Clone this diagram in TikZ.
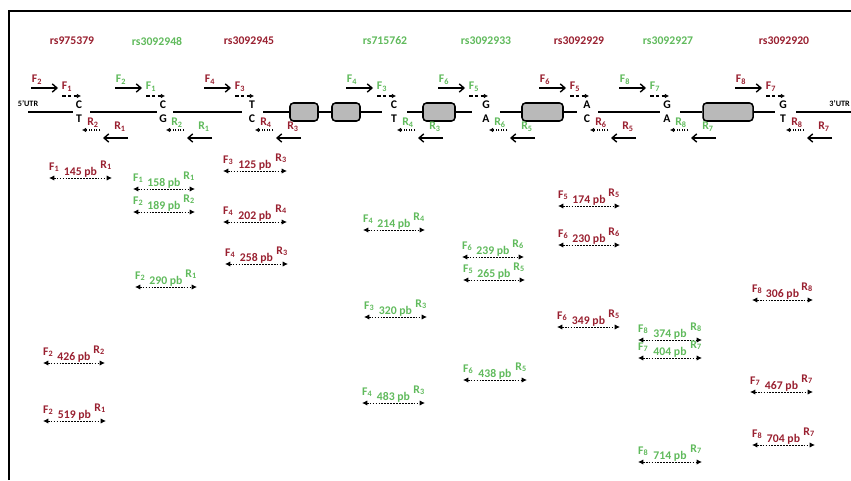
\documentclass[tikz,border=0pt]{standalone}
\usepackage{fontspec}
\setmainfont{Carlito}
\usepackage{xcolor}
\usetikzlibrary{arrows.meta, positioning, shapes}
\definecolor{snpred}{RGB}{153,32,48}
\definecolor{snpgreen}{RGB}{96,186,92}
\tikzset{
        x=0.03cm, y=-0.03cm, % one unit = one pixel of the figure, y going down
        every node/.style={font=\bfseries\fontsize{10}{12}\selectfont, inner sep=0pt},
        rs label/.style={font=\bfseries\fontsize{10}{12}\selectfont},
        allele/.style={font=\bfseries\fontsize{10}{12}\selectfont},
        utr/.style={font=\bfseries\fontsize{7}{8}\selectfont},
        gene/.style={line width=1.8pt},
    }
\tikzset{
      exon/.style={
		draw,
		line width=1.3pt,
		fill=gray!55,
		rounded corners=3pt,
		minimum height=0.54cm,
		minimum width={#1*0.03cm},
	  },
      outer primer/.style={line width=1.2pt, -{Straight Barb[length=4pt,width=7pt]}},
      inner fwd/.style={line width=1pt, dash pattern=on 3pt off 2pt, -{Latex[length=3.5pt,width=4pt]}},
      inner rev/.style={line width=1.2pt, dash pattern=on 1pt off 1.2pt, -{Latex[length=3.5pt,width=4pt]}},
      amplicon/.style={line width=0.8pt, dash pattern=on 1.5pt off 1pt, {Latex[length=4.5pt,width=4.5pt]}-{Latex[length=4.5pt,width=4.5pt]}},
  	}

\begin{document}
\begin{tikzpicture}
    \useasboundingbox (0,0) rectangle (851,480);
    \draw[line width=1.5pt] (9,480) -- (9,11) -- (851,11); % frame

    % gene with exons
    \node[utr] (utr5) at (28,104) {5'UTR};
    \node[utr, anchor=east] (utr3) at (850,104) {3'UTR};
    \foreach \ga/\gb in {28/73, 90/157, 173/242, 598/660, 796/851}
        \draw[gene] (\ga,112) -- (\gb,112);
    \node[exon=28] (ex1) at (304,112) {};
    \node[exon=28] (ex2) at (346,112) {};
    \node[exon=32] (ex3) at (439,112) {};
    \node[exon=41] (ex4) at (542.5,112) {};
    \node[exon=50] (ex5) at (728,112) {};
    \draw[gene] (263,112) -- (ex1) -- (ex2) -- (382,112);
    \draw[gene] (407,112) -- (ex3) -- (472,112);
    \draw[gene] (500,112) -- (ex4) -- (577,112);
    \draw[gene] (680,112) -- (ex5) -- (775,112);

    % SNPs with their primers
    \foreach \n/\hx/\id/\x/\up/\dn/\col/\fo/\fq/\rq/\ro in {
        1/72/975379/79/C/T/snpred/2/1/2/1,
        2/157/3092948/163/C/G/snpgreen/2/1/2/1,
        3/249/3092945/252/T/C/snpred/4/3/4/3,
        4/385/715762/394/C/T/snpgreen/4/3/4/3,
        5/486/3092933/486/G/A/snpgreen/6/5/6/5,
        6/579/3092929/587/A/C/snpred/6/5/6/5,
        7/668/3092927/667/G/A/snpgreen/8/7/8/7,
        8/784/3092920/783/G/T/snpred/8/7/8/7}{
        \node[rs label, text=\col] (rs\n) at (\hx,41) {rs\id};
        \node[allele] (up\n) at (\x,105) {\up};
        \node[allele] (dn\n) at (\x,119) {\dn};
        \coordinate (fo\n-a) at (\x-48,88);
        \coordinate (fo\n-b) at (\x-21,88);
        \coordinate (fq\n-a) at (\x-17,96);
        \coordinate (fq\n-b) at (\x+2,96);
        \coordinate (rq\n-a) at (\x+21,130);
        \coordinate (rq\n-b) at (\x+3,130);
        \coordinate (ro\n-a) at (\x+49,138);
        \coordinate (ro\n-b) at (\x+24,138);
        \draw[outer primer] (fo\n-a) -- (fo\n-b);
        \draw[inner fwd] (fq\n-a) -- (fq\n-b);
        \draw[inner rev] (rq\n-a) -- (rq\n-b);
        \draw[outer primer] (ro\n-a) -- (ro\n-b);
        \node[text=\col] (lfo\n) at (\x-42,80) {F\textsubscript{\fo}};
        \node[text=\col] (lfq\n) at (\x-12,87) {F\textsubscript{\fq}};
        \node[text=\col] (lrq\n) at (\x+14,123) {R\textsubscript{\rq}};
        \node[text=\col] (lro\n) at (\x+41,127) {R\textsubscript{\ro}};
    }

    % amplicons
    \foreach \fa/\sz/\ra/\col/\xa/\xb/\ya in {
        1/145/1/snpred/49/112/178,
        1/158/1/snpgreen/133/195/189,
        2/189/2/snpgreen/133/195/212,
        2/290/1/snpgreen/135/197/287,
        3/125/3/snpred/223/287/171,
        4/202/4/snpred/223/287/222,
        4/258/3/snpred/225/288/264,
        4/214/4/snpgreen/363/425/230,
        6/239/6/snpgreen/462/524/257,
        5/265/5/snpgreen/463/525/280,
        5/174/5/snpred/558/620/206,
        6/230/6/snpred/558/620/245,
        8/306/8/snpred/752/813/300,
        3/320/3/snpgreen/364/427/317,
        4/483/3/snpgreen/362/425/403,
        6/438/5/snpgreen/463/527/380,
        6/349/5/snpred/557/620/327,
        8/374/8/snpgreen/638/702/340,
        7/404/7/snpgreen/638/702/358,
        8/714/7/snpgreen/638/702/462,
        7/467/7/snpred/750/813/392,
        8/704/7/snpred/752/815/445,
        2/426/2/snpred/43/105/363,
        2/519/1/snpred/43/106/421}{
        \coordinate (a\sz) at (\xa,\ya);
        \coordinate (b\sz) at (\xb,\ya);
        \draw[amplicon] (a\sz) -- (b\sz);
        \node[text=\col, anchor=base west] (f\sz) at (\xa,\ya-8) {F\textsubscript{\fa}};
        \node[text=\col, anchor=base] (n\sz) at ({(\xa+\xb)/2},\ya-3) {\sz\ pb};
        \node[text=\col, anchor=base east] (r\sz) at (\xb,\ya-10) {R\textsubscript{\ra}};
    }
\end{tikzpicture}
\end{document}
